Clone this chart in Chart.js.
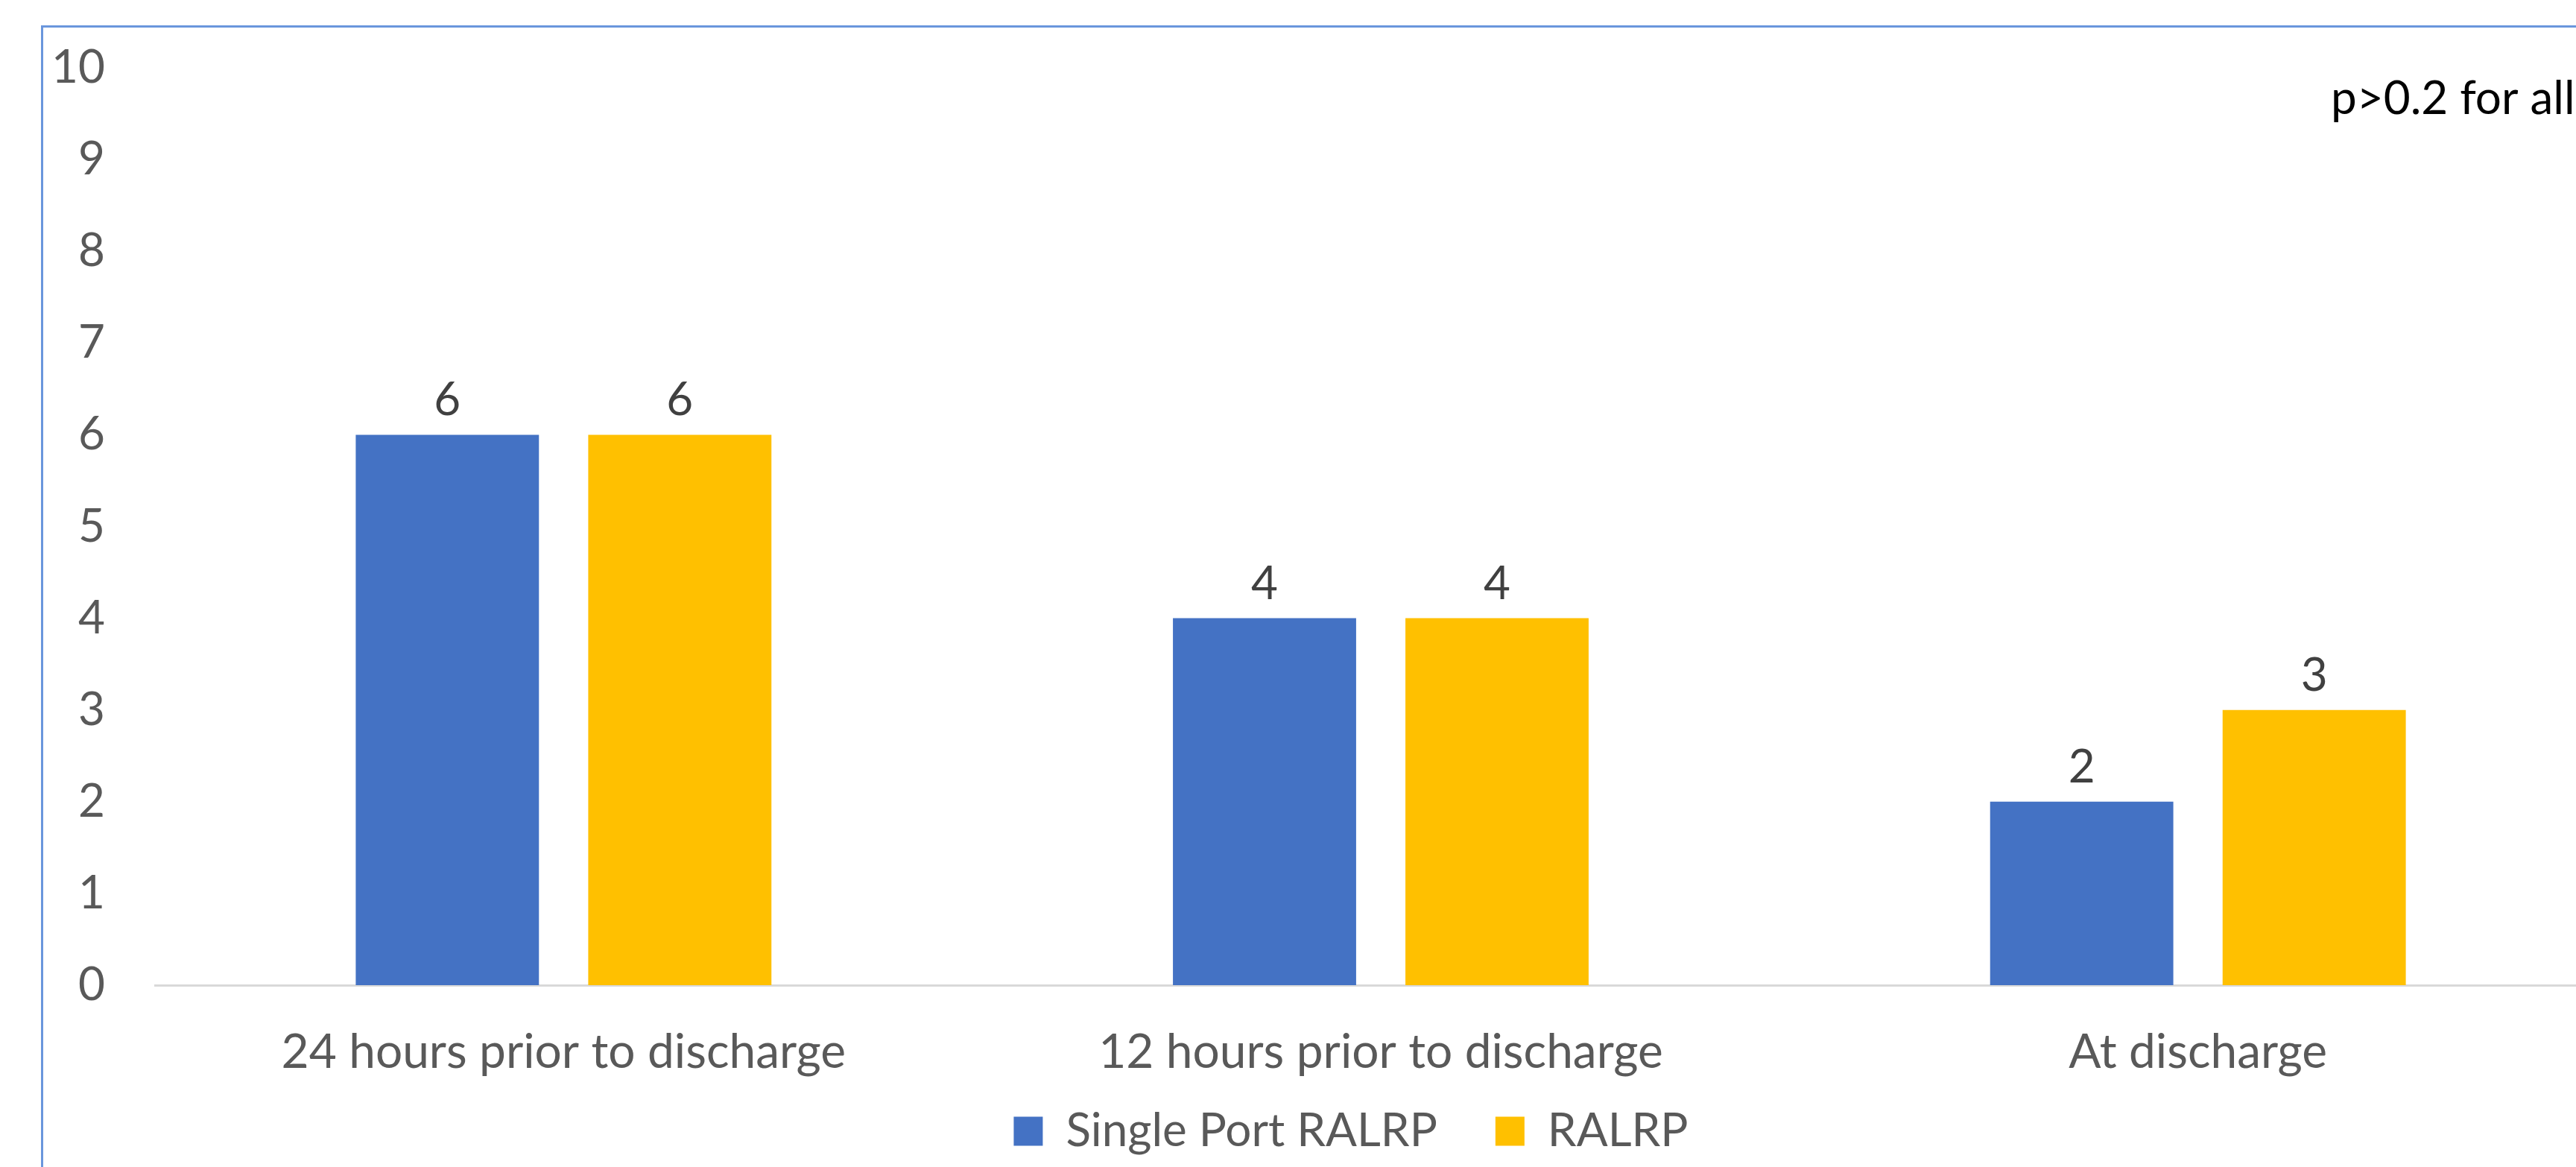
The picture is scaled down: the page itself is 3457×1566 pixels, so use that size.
<!DOCTYPE html>
<html>
<head>
<meta charset="utf-8">
<script src="https://cdn.jsdelivr.net/npm/chart.js@4/dist/chart.umd.min.js"></script>
<style>
  html, body { margin: 0; padding: 0; background: #fff; overflow: hidden; width: 3457px; height: 1566px; }
  #frame { position: absolute; left: 55px; top: 34px; width: 3600px; height: 1700px; border: 3px solid #6a96dc; box-sizing: border-box; }
  #chart { position: absolute; left: 0; top: 0; }
</style>
</head>
<body>
<div id="frame"><canvas id="chart" width="3440" height="1581"></canvas></div>
<script>
// chart data
const categories = ['24 hours prior to discharge', '12 hours prior to discharge', 'At discharge'];
const singlePort = [6, 4, 2];
const ralrp = [6, 4, 3];
const yMin = 0, yMax = 10, yStep = 1;
const note = 'p>0.2 for all';

Chart.defaults.font.family = 'Lato, "Open Sans", sans-serif';

// value labels above each bar
const barValues = {
  id: 'barValues',
  afterDatasetsDraw(chart){
    const ctx = chart.ctx;
    ctx.save();
    ctx.font = '62px Lato';
    ctx.fillStyle = '#404040';
    ctx.textAlign = 'center';
    ctx.textBaseline = 'middle';
    chart.data.datasets.forEach((ds, i) => {
      chart.getDatasetMeta(i).data.forEach((bar, j) => {
        ctx.fillText(String(ds.data[j]), bar.x, bar.y - 46);
      });
    });
    ctx.restore();
  }
};

// the p-value note in the top right corner
const noteText = {
  id: 'noteText',
  afterDraw(chart){
    const ctx = chart.ctx;
    ctx.save();
    ctx.font = '62px Lato';
    ctx.fillStyle = '#000';
    ctx.textAlign = 'left';
    ctx.textBaseline = 'alphabetic';
    ctx.fillText(note, 3070, 116);
    ctx.restore();
  }
};

// legend items need a wide gap, which also pads the legend vertically; pull it back up
const legendLift = {
  id: 'legendLift',
  afterLayout(chart){
    const lg = chart.legend;
    if (!lg) return;
    lg.top -= 59;
    lg.bottom -= 59;
    lg.left += 35;
    lg.right += 35;
  }
};

new Chart(document.getElementById('chart').getContext('2d'), {
  type: 'bar',
  data: {
    labels: categories,
    datasets: [
      { label: 'Single Port RALRP', data: singlePort, backgroundColor: '#4472c4' },
      { label: 'RALRP', data: ralrp, backgroundColor: '#ffc000' }
    ]
  },
  options: {
    responsive: false,
    devicePixelRatio: 1,
    animation: false,
    categoryPercentage: 0.569,
    barPercentage: 0.788,
    layout: { padding: { top: 54, right: 0, bottom: 0, left: 0 } },
    plugins: {
      legend: {
        position: 'bottom',
        labels: {
          boxWidth: 39, boxHeight: 39, padding: 78,
          color: '#595959',
          font: { size: 62 }
        }
      },
      tooltip: { enabled: false }
    },
    scales: {
      x: {
        grid: { display: false, drawTicks: false },
        border: { color: '#d9d9d9', width: 3 },
        ticks: { color: '#595959', font: { size: 64 }, padding: 52 },
        afterFit(scale){ scale.height = 146; }
      },
      y: {
        min: yMin, max: yMax,
        grid: { display: false, drawTicks: false },
        border: { display: false },
        ticks: { stepSize: yStep, color: '#595959', font: { size: 62 }, padding: 67 },
        afterFit(scale){
          scale.width = 150;
          scale.paddingTop = 0;
          scale.paddingBottom = 0;
        }
      }
    }
  },
  plugins: [barValues, noteText, legendLift]
});
</script>
</body>
</html>
